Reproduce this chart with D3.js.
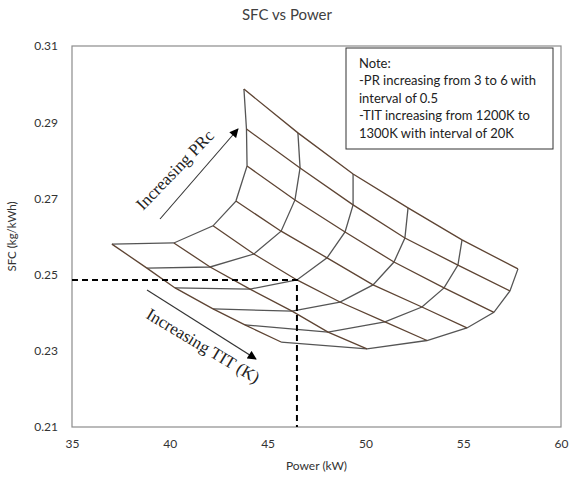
<!DOCTYPE html>
<html><head><meta charset="utf-8">
<script src="https://cdn.jsdelivr.net/npm/d3@7"></script>
<style>body{margin:0;background:#fff}</style>
</head><body><svg id="c" width="574" height="477"></svg>
<script>
// Carpet plot data: each TIT level traced over PR = 3..6
const titLevels = [1200, 1220, 1240, 1260, 1280, 1300];
const prLevels = [3, 3.5, 4, 4.5, 5, 5.5, 6];
const power1200 = [37.04, 40.21, 42.21, 43.38, 43.95, 43.92, 43.79];
const sfc1200   = [0.2580, 0.2583, 0.2628, 0.2693, 0.2785, 0.2882, 0.2987];
const power1220 = [38.83, 42.06, 44.30, 45.69, 46.40, 46.66, 46.55];
const sfc1220   = [0.2517, 0.2520, 0.2554, 0.2614, 0.2696, 0.2780, 0.2872];
const power1240 = [40.27, 44.10, 46.50, 48.04, 48.96, 49.37, 49.37];
const sfc1240   = [0.2465, 0.2462, 0.2486, 0.2544, 0.2612, 0.2683, 0.2764];
const power1260 = [42.21, 46.25, 48.70, 50.39, 51.46, 52.02, 52.18];
const sfc1260   = [0.2410, 0.2404, 0.2428, 0.2473, 0.2533, 0.2596, 0.2675];
const power1280 = [43.84, 48.09, 51.00, 52.89, 54.02, 54.73, 54.94];
const sfc1280   = [0.2368, 0.2349, 0.2376, 0.2415, 0.2465, 0.2525, 0.2591];
const power1300 = [45.69, 50.08, 53.15, 55.19, 56.57, 57.39, 57.80];
const sfc1300   = [0.2323, 0.2305, 0.2327, 0.2360, 0.2401, 0.2457, 0.2515];
const xTicks = [35, 40, 45, 50, 55, 60];
const yTicks = [0.21, 0.23, 0.25, 0.27, 0.29, 0.31];
const refPower = 46.5, refSfc = 0.2486;
const noteLines = ["Note:", "-PR increasing from 3 to 6 with", "interval of 0.5",
  "-TIT increasing from 1200K to", "1300K with interval of 20K"];

const powerByTit = [power1200, power1220, power1240, power1260, power1280, power1300];
const sfcByTit = [sfc1200, sfc1220, sfc1240, sfc1260, sfc1280, sfc1300];

const svg = d3.select("#c");
const L = 72, R = 561, T = 46, B = 427;
const x = d3.scaleLinear().domain([35, 60]).range([L, R]);
const y = d3.scaleLinear().domain([0.21, 0.31]).range([B, T]);
const font = "Lato, 'Open Sans', sans-serif";

svg.append("text").attr("x", 287).attr("y", 20).attr("text-anchor", "middle")
  .attr("font-family", font).attr("font-size", 15).attr("fill", "#404040").text("SFC vs Power");

// frame
svg.append("rect").attr("x", L).attr("y", T).attr("width", R - L).attr("height", B - T)
  .attr("fill", "none").attr("stroke", "#8c8c8c").attr("stroke-width", 1.2);

const ya = svg.append("g").attr("transform", `translate(${L},0)`)
  .call(d3.axisLeft(y).tickValues(yTicks).tickSize(0).tickPadding(14).tickFormat(d3.format(".2f")));
ya.select(".domain").remove();
ya.selectAll("text").attr("font-family", font).attr("font-size", 12).attr("fill", "#333");

const xa = svg.append("g").attr("transform", `translate(0,${B})`)
  .call(d3.axisBottom(x).tickValues(xTicks).tickSize(0).tickPadding(12).tickFormat(d3.format("d")));
xa.select(".domain").remove();
xa.selectAll("text").attr("font-family", font).attr("font-size", 12).attr("fill", "#333");

svg.append("text").attr("x", (L + R) / 2).attr("y", 470).attr("text-anchor", "middle")
  .attr("font-family", font).attr("font-size", 12).attr("fill", "#333").text("Power (kW)");
svg.append("text").attr("transform", `translate(16,${(T + B) / 2}) rotate(-90)`).attr("text-anchor", "middle")
  .attr("font-family", font).attr("font-size", 11.5).attr("fill", "#333").text("SFC (kg/kWh)");

// grid
const line = d3.line().x(d => x(d[0])).y(d => y(d[1]));
// gray: constant TIT
titLevels.forEach((t, i) => {
  const pts = prLevels.map((p, j) => [powerByTit[i][j], sfcByTit[i][j]]);
  svg.append("path").attr("d", line(pts)).attr("fill", "none").attr("stroke", "#555").attr("stroke-width", 1.3);
});
// brown: constant PR
prLevels.forEach((p, j) => {
  const pts = titLevels.map((t, i) => [powerByTit[i][j], sfcByTit[i][j]]);
  svg.append("path").attr("d", line(pts)).attr("fill", "none").attr("stroke", "#5e4433").attr("stroke-width", 1.3);
});

// reference dashed lines
svg.append("path").attr("d", `M${L},${y(refSfc)}H${x(refPower)}V${B}`)
  .attr("fill", "none").attr("stroke", "#000").attr("stroke-width", 2).attr("stroke-dasharray", "6,4");

// arrows
const defs = svg.append("defs");
defs.append("marker").attr("id", "ah").attr("viewBox", "0 0 10 10").attr("refX", 9).attr("refY", 5)
  .attr("markerWidth", 10).attr("markerHeight", 9).attr("markerUnits", "userSpaceOnUse").attr("orient", "auto")
  .append("path").attr("d", "M0,0L10,5L0,10Z").attr("fill", "#000");
svg.append("line").attr("x1", 160).attr("y1", 219).attr("x2", 238).attr("y2", 129)
  .attr("stroke", "#333").attr("stroke-width", 1.1).attr("marker-end", "url(#ah)");
svg.append("line").attr("x1", 147).attr("y1", 290).attr("x2", 256).attr("y2", 359)
  .attr("stroke", "#333").attr("stroke-width", 1.1).attr("marker-end", "url(#ah)");

svg.append("text").attr("transform", "translate(175,170) rotate(-46)").attr("text-anchor", "middle")
  .attr("dominant-baseline", "central").attr("font-family", "'Liberation Serif', serif").attr("font-size", 17)
  .attr("fill", "#222").text("Increasing PRc");
svg.append("text").attr("transform", "translate(203,346) rotate(31)").attr("text-anchor", "middle")
  .attr("dominant-baseline", "central").attr("font-family", "'Liberation Serif', serif").attr("font-size", 17)
  .attr("fill", "#222").text("Increasing TIT (K)");

// note box
svg.append("rect").attr("x", 346).attr("y", 48).attr("width", 207).attr("height", 101)
  .attr("fill", "#fff").attr("stroke", "#333").attr("stroke-width", 1);
svg.append("g").selectAll("text").data(noteLines).join("text")
  .attr("x", 359).attr("y", (d, i) => 68 + i * 17.4)
  .attr("font-family", font).attr("font-size", 13).attr("fill", "#222").text(d => d);
</script></body></html>
